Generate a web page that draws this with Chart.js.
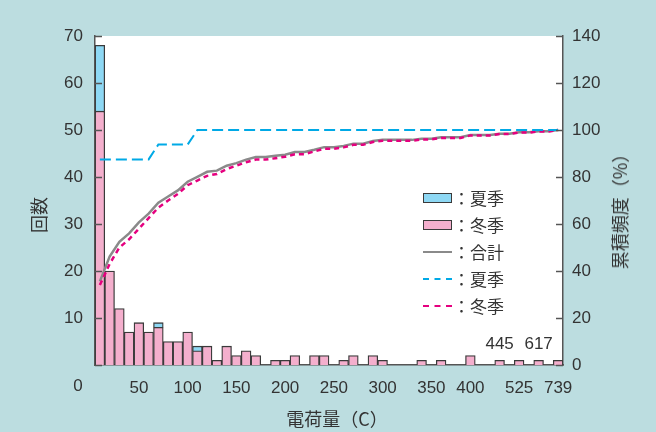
<!DOCTYPE html>
<html lang="ja">
<head>
<meta charset="utf-8">
<script src="https://cdn.jsdelivr.net/npm/chart.js@4.4.1/dist/chart.umd.min.js"></script>
<style>
  html, body { margin: 0; padding: 0; background: #bcdde0; }
  #wrap { position: relative; width: 656px; height: 432px; background: #bcdde0; }
  canvas { position: absolute; left: 0; top: 0; }
  .ttl { position: absolute; font-family: "Noto Sans CJK JP", sans-serif; font-size: 18px; color: #333; white-space: nowrap; line-height: 1; }
  .vert { transform: translate(-50%, -50%) rotate(-90deg); }
  .legend { position: absolute; left: 423px; top: 184px; font-family: "Noto Sans CJK JP", sans-serif; font-size: 17px; color: #333; }
  .legend .row { height: 27px; display: flex; align-items: center; }
  .legend .sw { width: 29px; height: 10px; box-sizing: border-box; border: 1px solid #3a3a3a; }
  .legend .ln { width: 29px; height: 0; }
  .legend span { margin-left: 1px; }
</style>
</head>
<body>
<div id="wrap">
  <canvas id="chart" width="656" height="432"></canvas>
  <div class="ttl vert" style="left:38px; top:215px;">回数</div>
  <div class="ttl vert" style="left:619px; top:207px;">累積頻度（%）</div>
  <div class="ttl" style="left:337px; top:418px; transform: translate(-50%, -50%);">電荷量（C）</div>
  <div class="legend">
    <div class="row"><div class="sw" style="background:#8ed8f4"></div><span>：夏季</span></div>
    <div class="row"><div class="sw" style="background:#f4afcd"></div><span>：冬季</span></div>
    <div class="row"><div class="ln" style="border-top:2.5px solid #8a8a8a"></div><span>：合計</span></div>
    <div class="row"><div class="ln" style="border-top:2px dashed #00a9e6"></div><span>：夏季</span></div>
    <div class="row"><div class="ln" style="border-top:2.5px dashed #e5007f"></div><span>：冬季</span></div>
  </div>
</div>
<script>
// bins of the charge histogram (only some get an axis label)
const binLabels = ['', '', '', '', '50', '', '', '', '', '100',
                   '', '', '', '', '150', '', '', '', '', '200',
                   '', '', '', '', '250', '', '', '', '', '300',
                   '', '', '', '', '350', '', '', '', '400', '',
                   '', '', '', '525', '', '', '', '739'];

const winterCounts = [54, 20, 12, 7, 9, 7, 8, 5, 5, 7,
                      3, 4, 1, 4, 2, 3, 2, 0, 1, 1,
                      2, 0, 2, 2, 0, 1, 2, 0, 2, 1,
                      0, 0, 0, 1, 0, 1, 0, 0, 2, 0,
                      0, 1, 0, 1, 0, 1, 0, 1];
const summerCounts = [14, 0, 0, 0, 0, 0, 1, 0, 0, 0,
                      1, 0, 0, 0, 0, 0, 0, 0, 0, 0,
                      0, 0, 0, 0, 0, 0, 0, 0, 0, 0,
                      0, 0, 0, 0, 0, 0, 0, 0, 0, 0,
                      0, 0, 0, 0, 0, 0, 0, 0];

// cumulative frequency (%)
const totalCum = [35.6, 46.1, 52.4, 56.0, 60.7, 64.4, 69.1, 71.7, 74.3, 78.0,
                  80.1, 82.2, 82.7, 84.8, 85.9, 87.4, 88.5, 88.5, 89.0, 89.5,
                  90.6, 90.6, 91.6, 92.7, 92.7, 93.2, 94.2, 94.2, 95.3, 95.8,
                  95.8, 95.8, 95.8, 96.3, 96.3, 96.9, 96.9, 96.9, 97.9, 97.9,
                  97.9, 98.4, 98.4, 99.0, 99.0, 99.5, 99.5, 100];
const summerCum = [87.5, 87.5, 87.5, 87.5, 87.5, 87.5, 93.8, 93.8, 93.8, 93.8,
                   100, 100, 100, 100, 100, 100, 100, 100, 100, 100,
                   100, 100, 100, 100, 100, 100, 100, 100, 100, 100,
                   100, 100, 100, 100, 100, 100, 100, 100, 100, 100,
                   100, 100, 100, 100, 100, 100, 100, 100];
const winterCum = [34, 43, 50, 53.5, 58, 62.5, 67, 70, 72.8, 76.5,
                   78.5, 80.5, 81.3, 83.4, 84.8, 86.3, 87.4, 87.4, 88, 88.6,
                   89.7, 89.7, 90.9, 92, 92, 92.6, 93.7, 93.7, 94.9, 95.4,
                   95.4, 95.4, 95.4, 96, 96, 96.6, 96.6, 96.6, 97.7, 97.7,
                   97.7, 98.3, 98.3, 98.9, 98.9, 99.4, 99.4, 100];

// values written inside the plot above the far outlier bins
const outlierNotes = [{ bin: 41, text: '445' }, { bin: 45, text: '617' }];

const FONT = '"Liberation Sans", Arial, sans-serif';
Chart.defaults.font.family = FONT;
Chart.defaults.color = '#333';

const extras = {
    id: 'extras',
    beforeDraw(chart) {
        const { ctx, chartArea: a } = chart;
        ctx.save();
        ctx.fillStyle = '#ffffff';
        ctx.fillRect(a.left, a.top, a.right - a.left, a.bottom - a.top);
        ctx.restore();
    },
    afterDraw(chart) {
        const { ctx, chartArea: a, scales } = chart;
        ctx.save();
        ctx.strokeStyle = '#555';
        ctx.lineWidth = 1.5;
        // inward tick marks
        scales.y.ticks.forEach(t => {
            const py = Math.round(scales.y.getPixelForValue(t.value)) + 0.5;
            ctx.beginPath(); ctx.moveTo(a.left, py); ctx.lineTo(a.left + 7, py); ctx.stroke();
        });
        scales.y2.ticks.forEach(t => {
            const py = Math.round(scales.y2.getPixelForValue(t.value)) + 0.5;
            ctx.beginPath(); ctx.moveTo(a.right, py); ctx.lineTo(a.right - 7, py); ctx.stroke();
        });
        ctx.font = '17px ' + FONT;
        ctx.fillStyle = '#333';
        ctx.textAlign = 'center';
        ctx.textBaseline = 'middle';
        // origin label
        ctx.fillText('0', a.left - 17, a.bottom + 21);
        outlierNotes.forEach(n => {
            ctx.fillText(n.text, scales.x.getPixelForValue(n.bin), scales.y.getPixelForValue(4.3));
        });
        ctx.restore();
    }
};

new Chart(document.getElementById('chart'), {
    data: {
        labels: binLabels,
        datasets: [
            { type: 'line', label: '合計', data: totalCum, yAxisID: 'y2', borderColor: '#8a8a8a', borderWidth: 2.5, pointRadius: 0, order: 1 },
            { type: 'line', label: '夏季', data: summerCum, yAxisID: 'y2', borderColor: '#00a9e6', borderWidth: 2, borderDash: [11, 5], pointRadius: 0, order: 0 },
            { type: 'line', label: '冬季', data: winterCum, yAxisID: 'y2', borderColor: '#e5007f', borderWidth: 2.5, borderDash: [5, 4], pointRadius: 0, order: 0 },
            { type: 'bar', label: '冬季', data: winterCounts, yAxisID: 'y', backgroundColor: '#f4afcd', borderColor: '#3a3a3a', borderWidth: 1.3, barPercentage: 1, categoryPercentage: 1, order: 2 },
            { type: 'bar', label: '夏季', data: summerCounts, yAxisID: 'y', backgroundColor: '#8ed8f4', borderColor: '#3a3a3a', borderWidth: 1.3, barPercentage: 1, categoryPercentage: 1, order: 2 }
        ]
    },
    options: {
        responsive: false,
        animation: false,
        layout: { padding: { top: 36, left: 0, right: 0, bottom: 0 } },
        plugins: { legend: { display: false }, tooltip: { enabled: false } },
        scales: {
            x: {
                stacked: true,
                grid: { display: false, drawTicks: false },
                border: { display: true, color: '#555', width: 1.5 },
                ticks: { autoSkip: false, maxRotation: 0, minRotation: 0, padding: 13, font: { size: 17 }, color: '#333' },
                afterFit: s => { s.height = 67; }
            },
            y: {
                stacked: true,
                min: 0, max: 70,
                grid: { display: false, drawTicks: false },
                border: { display: true, color: '#555', width: 1.5 },
                ticks: { stepSize: 10, padding: 12, font: { size: 17 }, color: '#333', callback: v => v === 0 ? '' : v },
                afterFit: s => { s.width = 95; }
            },
            y2: {
                position: 'right',
                min: 0, max: 140,
                grid: { display: false, drawTicks: false },
                border: { display: true, color: '#555', width: 1.5 },
                ticks: { stepSize: 20, padding: 9, font: { size: 17 }, color: '#333' },
                afterFit: s => { s.width = 93; }
            }
        }
    },
    plugins: [extras]
});
</script>
</body>
</html>
